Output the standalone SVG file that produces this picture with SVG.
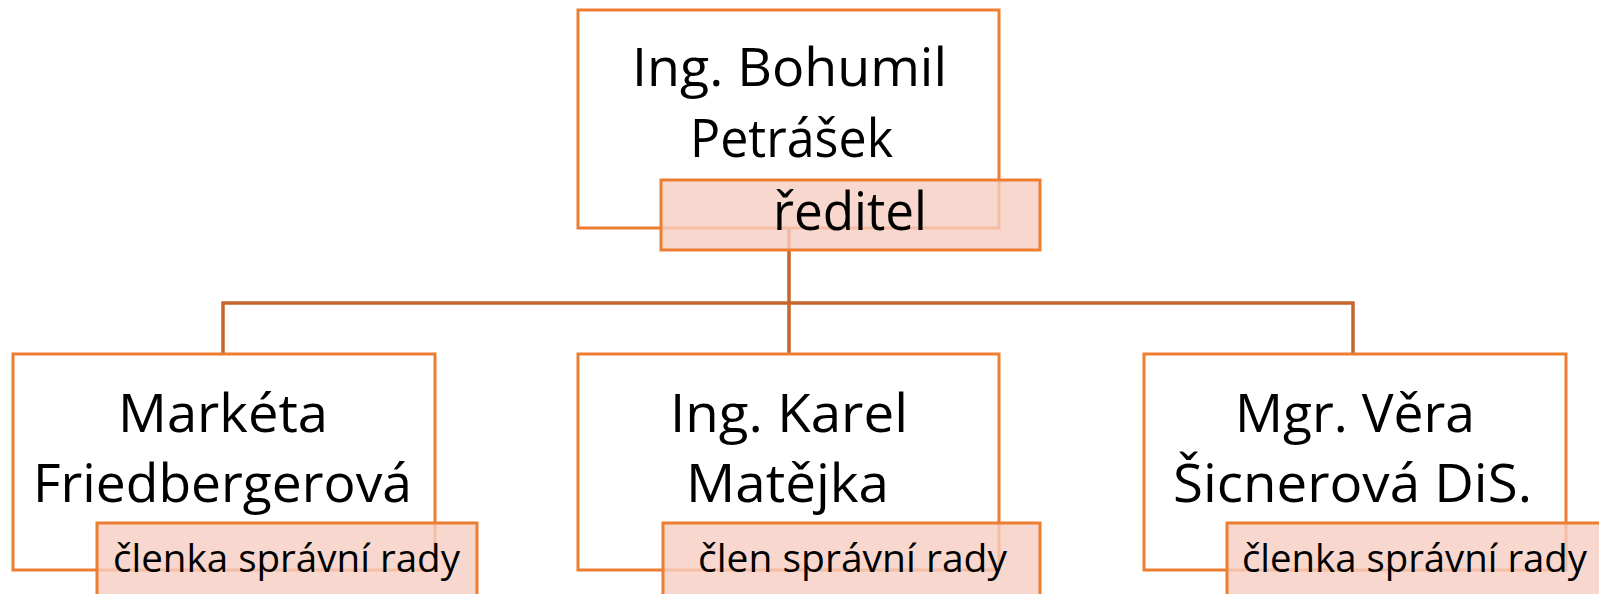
<svg xmlns="http://www.w3.org/2000/svg" width="1599" height="594" viewBox="0 0 1599 594">
<style>
.box{fill:#fff;stroke:#ED7D31;stroke-width:3}
.lab{fill:#F6CEC2;fill-opacity:0.8;stroke:#ED7D31;stroke-width:3}
.conn{fill:none;stroke:#C5652B;stroke-width:3.5}
.big{font-family:"Open Sans","Liberation Sans",sans-serif;font-size:53px;fill:#000}
.small{font-family:"Open Sans","Liberation Sans",sans-serif;font-size:38px;fill:#000}
</style>
<rect width="1599" height="594" fill="#fff"/>
<g id="connectors">
<path class="conn" d="M789 228 V354"/>
<path class="conn" d="M223 354 V303 H1353 V354"/>
</g>
<g id="node-top">
<rect class="box" x="578" y="10" width="421" height="218"/>
<text class="big" x="632" y="86" textLength="315" lengthAdjust="spacingAndGlyphs">Ing. Bohumil</text>
<text class="big" x="690" y="157" textLength="203" lengthAdjust="spacingAndGlyphs">Petrášek</text>
<rect class="lab" x="661" y="180" width="379" height="70"/>
<text class="big" x="773" y="230" textLength="154" lengthAdjust="spacingAndGlyphs">ředitel</text>
</g>
<g id="node-left">
<rect class="box" x="13" y="354" width="422" height="216"/>
<text class="big" x="118" y="432" textLength="210" lengthAdjust="spacingAndGlyphs">Markéta</text>
<text class="big" x="33" y="502" textLength="379" lengthAdjust="spacingAndGlyphs">Friedbergerová</text>
<rect class="lab" x="97" y="523" width="380" height="80"/>
<text class="small" x="113" y="572" textLength="347" lengthAdjust="spacingAndGlyphs">členka správní rady</text>
</g>
<g id="node-middle">
<rect class="box" x="578" y="354" width="421" height="216"/>
<text class="big" x="670" y="432" textLength="238" lengthAdjust="spacingAndGlyphs">Ing. Karel</text>
<text class="big" x="686" y="502" textLength="203" lengthAdjust="spacingAndGlyphs">Matějka</text>
<rect class="lab" x="663" y="523" width="377" height="80"/>
<text class="small" x="698" y="572" textLength="309" lengthAdjust="spacingAndGlyphs">člen správní rady</text>
</g>
<g id="node-right">
<rect class="box" x="1144" y="354" width="422" height="216"/>
<text class="big" x="1235" y="432" textLength="240" lengthAdjust="spacingAndGlyphs">Mgr. Věra</text>
<text class="big" x="1173" y="502" textLength="359" lengthAdjust="spacingAndGlyphs">Šicnerová DiS.</text>
<rect class="lab" x="1227" y="523" width="380" height="80"/>
<text class="small" x="1242" y="572" textLength="345" lengthAdjust="spacingAndGlyphs">členka správní rady</text>
</g>
</svg>
